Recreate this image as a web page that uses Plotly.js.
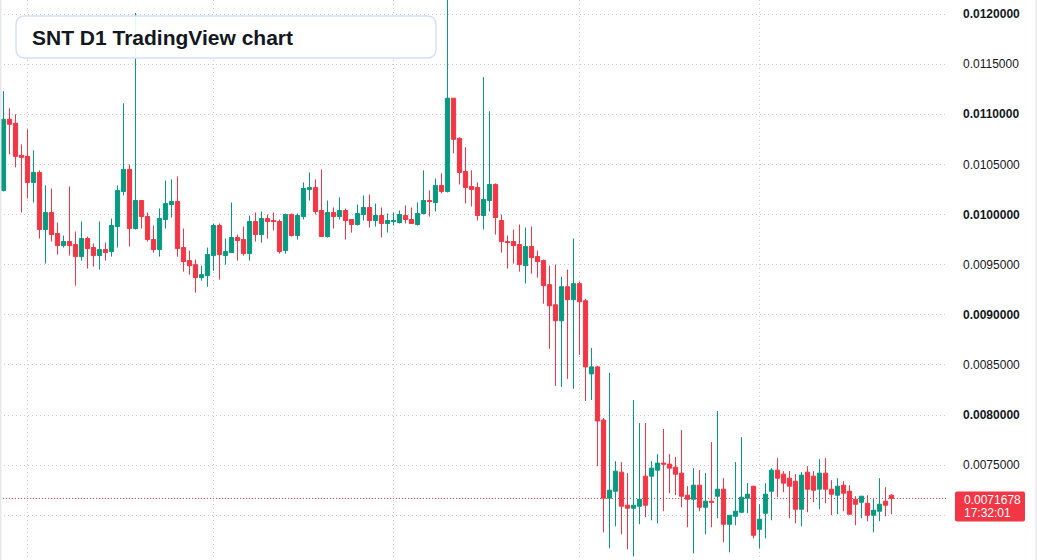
<!DOCTYPE html>
<html>
<head>
<meta charset="utf-8">
<script src="https://cdn.plot.ly/plotly-3.0.1.min.js"></script>
<style>
html,body{margin:0;padding:0;background:#ffffff;}
#chart{width:1037px;height:560px;}
</style>
</head>
<body>
<div id="chart"></div>
<script>
// ---- DATA (SNT, daily candles) ----
const firstDay = "2019-07-28";
const openPrices = [0.01024,0.01095,0.01091,0.01059,0.01058,0.01032,0.01042,0.00985,0.01002,0.00981,
0.00969,0.00973,0.00970,0.00958,0.00976,0.00967,0.00959,0.00965,0.00963,0.00988,
0.01023,0.01045,0.00986,0.01014,0.00998,0.00975,0.00965,0.00995,0.01010,0.01013,
0.00967,0.00954,0.00950,0.00937,0.00939,0.00959,0.00989,0.00959,0.00962,0.00977,
0.00975,0.00961,0.00993,0.00980,0.00996,0.00994,0.00993,0.00964,0.01000,0.00979,
0.00998,0.01025,0.01027,0.01004,0.00978,0.01002,0.00998,0.01004,0.00995,0.00990,
0.01000,0.01007,0.00994,0.00999,0.00991,0.00993,0.00992,0.00999,0.00995,0.00990,
0.01001,0.01014,0.01012,0.01029,0.01023,0.01116,0.01076,0.01043,0.01028,0.01027,
0.00999,0.01014,0.01030,0.00994,0.00973,0.00973,0.00970,0.00949,0.00968,0.00958,
0.00954,0.00930,0.00910,0.00894,0.00928,0.00915,0.00931,0.00914,0.00841,0.00848,
0.00795,0.00717,0.00724,0.00743,0.00710,0.00707,0.00709,0.00739,0.00739,0.00745,
0.00752,0.00751,0.00748,0.00742,0.00720,0.00716,0.00730,0.00708,0.00714,0.00719,
0.00726,0.00691,0.00699,0.00703,0.00717,0.00729,0.00686,0.00702,0.00724,0.00745,
0.00741,0.00737,0.00734,0.00706,0.00743,0.00739,0.00726,0.00742,0.00726,0.00720,
0.00730,0.00724,0.00716,0.00713,0.00712,0.00700,0.00704,0.00714,0.00720];
const highPrices = [0.01123,0.01106,0.01100,0.01070,0.01085,0.01064,0.01044,0.01029,0.01026,0.00992,
0.00979,0.01028,0.00983,0.00993,0.00978,0.00971,0.00993,0.00972,0.00996,0.01029,
0.01111,0.01050,0.01201,0.01014,0.01002,0.00989,0.01006,0.01034,0.01035,0.01038,
0.00986,0.00964,0.00955,0.00949,0.00967,0.00991,0.00991,0.00976,0.01012,0.00980,
0.00988,0.00999,0.01002,0.01003,0.01000,0.01002,0.00995,0.01001,0.01001,0.01001,
0.01032,0.01042,0.01035,0.01045,0.01014,0.01007,0.01017,0.01006,0.00995,0.01010,
0.01019,0.01020,0.01011,0.01007,0.01001,0.01002,0.01004,0.01009,0.01007,0.01012,
0.01044,0.01024,0.01036,0.01041,0.01230,0.01116,0.01077,0.01067,0.01044,0.01032,
0.01137,0.01103,0.01031,0.01000,0.00979,0.00985,0.00990,0.00987,0.00988,0.00964,
0.00955,0.00949,0.00950,0.00938,0.00945,0.00976,0.00933,0.00916,0.00867,0.00849,
0.00797,0.00842,0.00754,0.00753,0.00742,0.00815,0.00792,0.00792,0.00754,0.00761,
0.00786,0.00761,0.00758,0.00785,0.00729,0.00747,0.00745,0.00742,0.00773,0.00804,
0.00737,0.00700,0.00753,0.00778,0.00732,0.00729,0.00711,0.00732,0.00747,0.00757,
0.00744,0.00744,0.00741,0.00743,0.00749,0.00744,0.00756,0.00757,0.00735,0.00737,
0.00734,0.00730,0.00719,0.00719,0.00720,0.00716,0.00737,0.00728,0.00721];
const lowPrices = [0.01023,0.01060,0.01047,0.01002,0.01016,0.01012,0.00976,0.00951,0.00973,0.00960,
0.00967,0.00959,0.00929,0.00954,0.00946,0.00948,0.00945,0.00954,0.00958,0.00967,
0.01019,0.00968,0.00985,0.00986,0.00973,0.00962,0.00958,0.00986,0.00997,0.00958,
0.00943,0.00940,0.00922,0.00934,0.00928,0.00944,0.00935,0.00950,0.00962,0.00954,
0.00959,0.00954,0.00973,0.00972,0.00976,0.00984,0.00961,0.00961,0.00978,0.00975,
0.00995,0.01014,0.01000,0.00978,0.00977,0.00986,0.00995,0.00975,0.00982,0.00989,
0.00994,0.00987,0.00988,0.00977,0.00982,0.00989,0.00991,0.00991,0.00991,0.00989,
0.01000,0.00998,0.01003,0.01021,0.01022,0.01061,0.01030,0.01011,0.01008,0.00994,
0.00985,0.01003,0.00980,0.00962,0.00946,0.00951,0.00943,0.00931,0.00941,0.00937,
0.00911,0.00866,0.00829,0.00828,0.00836,0.00826,0.00860,0.00814,0.00815,0.00749,
0.00683,0.00667,0.00689,0.00681,0.00666,0.00659,0.00691,0.00698,0.00695,0.00692,
0.00704,0.00722,0.00720,0.00708,0.00688,0.00662,0.00704,0.00681,0.00688,0.00697,
0.00673,0.00663,0.00690,0.00702,0.00702,0.00677,0.00667,0.00677,0.00695,0.00718,
0.00723,0.00697,0.00692,0.00689,0.00703,0.00713,0.00706,0.00712,0.00700,0.00701,
0.00704,0.00701,0.00690,0.00697,0.00694,0.00683,0.00694,0.00699,0.00701];
const closePrices = [0.01095,0.01090,0.01058,0.01057,0.01032,0.01042,0.00985,0.01002,0.00980,0.00969,
0.00973,0.00969,0.00958,0.00976,0.00966,0.00959,0.00965,0.00962,0.00989,0.01024,
0.01045,0.00986,0.01014,0.00998,0.00975,0.00965,0.00996,0.01011,0.01013,0.00966,
0.00953,0.00949,0.00937,0.00940,0.00960,0.00989,0.00960,0.00963,0.00977,0.00974,
0.00961,0.00993,0.00980,0.00996,0.00993,0.00993,0.00963,0.01000,0.00979,0.00999,
0.01026,0.01027,0.01003,0.00978,0.01002,0.00998,0.01004,0.00994,0.00990,0.01001,
0.01007,0.00994,0.00999,0.00991,0.00994,0.00994,0.01000,0.00995,0.00991,0.01001,
0.01014,0.01013,0.01029,0.01023,0.01116,0.01075,0.01042,0.01027,0.01025,0.00999,
0.01015,0.01030,0.00997,0.00973,0.00972,0.00969,0.00950,0.00968,0.00957,0.00953,
0.00929,0.00909,0.00894,0.00928,0.00915,0.00931,0.00913,0.00848,0.00848,0.00794,
0.00717,0.00725,0.00744,0.00709,0.00707,0.00710,0.00716,0.00710,0.00747,0.00752,
0.00751,0.00747,0.00741,0.00719,0.00716,0.00730,0.00708,0.00714,0.00713,0.00726,
0.00691,0.00700,0.00704,0.00718,0.00721,0.00680,0.00696,0.00721,0.00745,0.00737,
0.00732,0.00729,0.00706,0.00740,0.00726,0.00725,0.00742,0.00726,0.00721,0.00729,
0.00722,0.00701,0.00711,0.00719,0.00700,0.00705,0.00711,0.00710,0.0071678];
const priceTickVals = [0.0070,0.0075,0.0080,0.0085,0.0090,0.0095,0.0100,0.0105,0.0110,0.0115,0.0120];
const priceTickText = ["","0.0075000","<b>0.0080000</b>","0.0085000","<b>0.0090000</b>","0.0095000",
  "<b>0.0100000</b>","0.0105000","<b>0.0110000</b>","0.0115000","<b>0.0120000</b>"];
const chartTitle = "SNT D1 TradingView chart";
const lastPriceText = "0.0071678";
const countdownText = "17:32:01";

// ---- build ----
const DAY = 86400000;
const t0 = Date.parse(firstDay + "T00:00:00Z");
const dates = openPrices.map((_, i) => new Date(t0 + i * DAY).toISOString().slice(0, 10));
const toStr = ms => new Date(ms).toISOString().replace("T", " ").replace("Z", "");

const W = 1037, H = 560, ML = 0, MR = 91, MT = 0, MB = 0;
const PW = W - ML - MR, PH = H - MT - MB;
const px = x => (x - ML) / PW;
const py = y => 1 - (y - MT) / PH;

function roundRect(x0, y0, x1, y1, r) {
  const P = (x, y) => px(x).toFixed(5) + "," + py(y).toFixed(5);
  return "M" + P(x0 + r, y0) + " L" + P(x1 - r, y0) + " Q" + P(x1, y0) + " " + P(x1, y0 + r) +
    " L" + P(x1, y1 - r) + " Q" + P(x1, y1) + " " + P(x1 - r, y1) +
    " L" + P(x0 + r, y1) + " Q" + P(x0, y1) + " " + P(x0, y1 - r) +
    " L" + P(x0, y0 + r) + " Q" + P(x0, y0) + " " + P(x0 + r, y0) + " Z";
}

const green = "#089981", red = "#f23645";
const trace = {
  type: "candlestick",
  x: dates, open: openPrices, high: highPrices, low: lowPrices, close: closePrices,
  increasing: {line: {color: green, width: 1}, fillcolor: green},
  decreasing: {line: {color: red, width: 1}, fillcolor: red},
  whiskerwidth: 0,
  hoverinfo: "skip",
  showlegend: false
};

const gridColor = "#c9ccd3";
const gridDash = "1px,3px";
const lastClose = closePrices[closePrices.length - 1];
const textFont = "Liberation Sans, Arial, sans-serif";
const layout = {
  width: W, height: H,
  margin: {l: ML, r: MR, t: MT, b: MB, pad: 0},
  paper_bgcolor: "#ffffff", plot_bgcolor: "#ffffff",
  showlegend: false,
  boxgap: 0.3, boxgroupgap: 0,
  font: {family: textFont, color: "#131722"},
  xaxis: {
    type: "date",
    range: [toStr(t0 - 0.583 * DAY), toStr(t0 + ((PW - 3.5) / 6) * DAY)],
    tick0: "2019-08-01", dtick: "M1",
    showgrid: true, gridcolor: gridColor, griddash: gridDash, gridwidth: 1,
    showticklabels: false, ticks: "", zeroline: false, showline: false,
    rangeslider: {visible: false}, fixedrange: true
  },
  yaxis: {
    side: "right",
    range: [0.0065536, 0.0121397],
    tickmode: "array", tickvals: priceTickVals, ticktext: priceTickText,
    showgrid: true, gridcolor: gridColor, griddash: gridDash, gridwidth: 1,
    ticks: "", ticklabelstandoff: 16,
    tickfont: {family: textFont, size: 12, color: "#131722"},
    zeroline: false, showline: false, fixedrange: true
  },
  shapes: [
    {type: "line", xref: "paper", yref: "y", x0: 0, x1: 1, y0: lastClose, y1: lastClose,
     line: {color: red, width: 1, dash: "1px,2px"}, layer: "below"},
    {type: "path", xref: "paper", yref: "paper", path: roundRect(16, 16, 436, 58, 9),
     fillcolor: "rgba(255,255,255,0.92)", line: {color: "#d3e2f6", width: 1.5}, layer: "above"},
    {type: "path", xref: "paper", yref: "paper", path: roundRect(955, 491.5, 1025, 521.5, 2),
     fillcolor: red, line: {width: 0}, layer: "above"},
    {type: "rect", xref: "paper", yref: "paper", x0: px(0), x1: px(1.5), y0: 0, y1: 1,
     fillcolor: "#e6e8ec", line: {width: 0}, layer: "above"},
    {type: "rect", xref: "paper", yref: "paper", x0: px(1035.5), x1: px(1037), y0: 0, y1: 1,
     fillcolor: "#e6e8ec", line: {width: 0}, layer: "above"}
  ],
  annotations: [
    {xref: "paper", yref: "paper", x: px(30), y: py(37.5), xanchor: "left", yanchor: "middle",
     text: "<b>" + chartTitle + "</b>", showarrow: false,
     font: {family: textFont, size: 21, color: "#131722"}},
    {xref: "paper", yref: "paper", x: px(962), y: py(499.5), xanchor: "left", yanchor: "middle",
     text: lastPriceText, showarrow: false,
     font: {family: textFont, size: 12, color: "#ffffff"}},
    {xref: "paper", yref: "paper", x: px(962), y: py(513), xanchor: "left", yanchor: "middle",
     text: countdownText, showarrow: false,
     font: {family: textFont, size: 12, color: "#ffffff"}}
  ]
};

Plotly.newPlot("chart", [trace], layout, {staticPlot: true, displayModeBar: false});
</script>
</body>
</html>
